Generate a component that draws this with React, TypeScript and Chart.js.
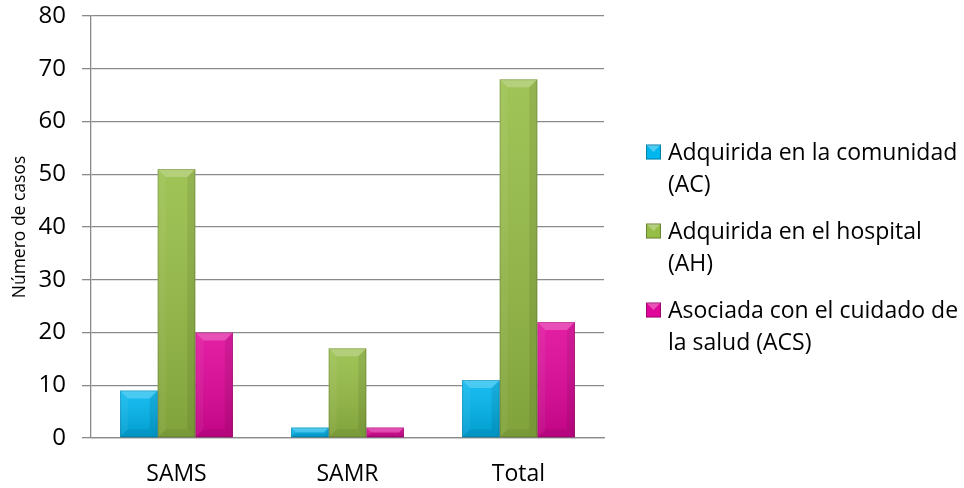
import React, { useEffect, useRef } from "react";
import { Chart, registerables } from "chart.js";

Chart.register(...registerables);

// Categories and series values (número de casos)
const categories = ["SAMS", "SAMR", "Total"];
const acValues = [9, 2, 11];
const ahValues = [51, 17, 68];
const acsValues = [20, 2, 22];

const seriesLabels = [
  "Adquirida en la comunidad (AC)",
  "Adquirida en el hospital (AH)",
  "Asociada con el cuidado de la salud (ACS)",
];
// Legend text broken into the lines it is drawn on
const legendLines = [
  ["Adquirida en la comunidad", "(AC)"],
  ["Adquirida en el hospital", "(AH)"],
  ["Asociada con el cuidado de", "la salud (ACS)"],
];
const seriesColors = ["#00B6EF", "#96BD45", "#E0069A"];

const yTicks = [0, 10, 20, 30, 40, 50, 60, 70, 80];
const yTitle = "Número de casos";

const FONT = "'Open Sans', 'Noto Sans', sans-serif";

// Beveled, softly shaded bar faces drawn over each bar
const bevelPlugin = {
  id: "bevelBars",
  afterDatasetsDraw(chart: any) {
    const ctx = chart.ctx;
    chart.data.datasets.forEach((_ds: any, di: number) => {
      const meta = chart.getDatasetMeta(di);
      meta.data.forEach((bar: any) => {
        const { x, y, base, width } = bar.getProps(["x", "y", "base", "width"], true);
        const l = x - width / 2;
        const r = x + width / 2;
        const t = Math.min(y, base);
        const b = Math.max(y, base);
        const h = b - t;
        if (h <= 0) return;
        const bv = Math.min(8, h / 2, width / 4);
        ctx.save();
        // vertical shading
        const g = ctx.createLinearGradient(0, t, 0, b);
        g.addColorStop(0, "rgba(255,255,255,0.10)");
        g.addColorStop(1, "rgba(0,0,0,0.14)");
        ctx.fillStyle = g;
        ctx.fillRect(l, t, width, h);
        // top bevel
        ctx.beginPath();
        ctx.moveTo(l, t);
        ctx.lineTo(r, t);
        ctx.lineTo(r - bv, t + bv);
        ctx.lineTo(l + bv, t + bv);
        ctx.closePath();
        ctx.fillStyle = "rgba(255,255,255,0.22)";
        ctx.fill();
        // left bevel
        ctx.beginPath();
        ctx.moveTo(l, t);
        ctx.lineTo(l + bv, t + bv);
        ctx.lineTo(l + bv, b - bv);
        ctx.lineTo(l, b);
        ctx.closePath();
        ctx.fillStyle = "rgba(255,255,255,0.05)";
        ctx.fill();
        // right bevel
        ctx.beginPath();
        ctx.moveTo(r, t);
        ctx.lineTo(r - bv, t + bv);
        ctx.lineTo(r - bv, b - bv);
        ctx.lineTo(r, b);
        ctx.closePath();
        ctx.fillStyle = "rgba(0,0,0,0.08)";
        ctx.fill();
        // bottom bevel
        ctx.beginPath();
        ctx.moveTo(l, b);
        ctx.lineTo(l + bv, b - bv);
        ctx.lineTo(r - bv, b - bv);
        ctx.lineTo(r, b);
        ctx.closePath();
        ctx.fillStyle = "rgba(0,0,0,0.06)";
        ctx.fill();
        // edge outline
        ctx.strokeStyle = "rgba(0,0,0,0.15)";
        ctx.lineWidth = 1;
        ctx.strokeRect(l + 0.5, t + 0.5, width - 1, h - 1);
        ctx.restore();
      });
    });
  },
};

// Right-hand legend with wrapped entries
const sideLegendPlugin = {
  id: "sideLegend",
  afterDraw(chart: any) {
    const ctx = chart.ctx;
    const boxX = 646;
    const textX = 668;
    const firstY = 153;
    const lineGap = 32;
    const entryGap = 47;
    ctx.save();
    ctx.font = `23px ${FONT}`;
    ctx.textBaseline = "middle";
    ctx.textAlign = "left";
    let yPos = firstY;
    chart.data.datasets.forEach((ds: any, i: number) => {
      const color = ds.backgroundColor;
      const bs = 15;
      const by = yPos - bs / 2 - 1;
      ctx.fillStyle = color;
      ctx.fillRect(boxX, by, bs, bs);
      ctx.beginPath();
      ctx.moveTo(boxX, by);
      ctx.lineTo(boxX + bs, by);
      ctx.lineTo(boxX + bs / 2, by + bs / 2);
      ctx.closePath();
      ctx.fillStyle = "rgba(255,255,255,0.3)";
      ctx.fill();
      ctx.strokeStyle = "rgba(0,0,0,0.3)";
      ctx.lineWidth = 1;
      ctx.strokeRect(boxX + 0.5, by + 0.5, bs - 1, bs - 1);
      ctx.fillStyle = "#000";
      const lines = legendLines[i];
      lines.forEach((ln, k) => {
        ctx.fillText(ln, textX, yPos + k * lineGap);
      });
      yPos += (lines.length - 1) * lineGap + entryGap;
    });
    ctx.restore();
  },
};

export default function App() {
  const ref = useRef<HTMLCanvasElement | null>(null);

  useEffect(() => {
    document.body.style.margin = "0";
    const canvas = ref.current;
    if (!canvas) return;
    const datasets = [acValues, ahValues, acsValues].map((vals, i) => ({
      label: seriesLabels[i],
      data: vals,
      backgroundColor: seriesColors[i],
      borderWidth: 0,
      categoryPercentage: 0.66,
      barPercentage: 1,
    }));
    const chart = new Chart(canvas, {
      type: "bar",
      data: { labels: categories, datasets },
      plugins: [bevelPlugin, sideLegendPlugin],
      options: {
        animation: false,
        responsive: false,
        maintainAspectRatio: false,
        layout: { padding: { top: 16, right: 360, bottom: 0, left: 0 } },
        plugins: {
          legend: { display: false },
          tooltip: { enabled: false },
        },
        scales: {
          x: {
            grid: { display: false, drawTicks: false },
            border: { display: true, color: "#8a8a8a", width: 1.3 },
            ticks: {
              color: "#000",
              font: { family: FONT, size: 23 },
              padding: 23,
            },
            afterFit(scale: any) {
              scale.height = 50;
              scale.paddingLeft = 0;
              scale.paddingRight = 0;
            },
          },
          y: {
            min: 0,
            max: 80,
            afterBuildTicks(scale: any) {
              scale.ticks = yTicks.map((v) => ({ value: v }));
            },
            grid: { color: "#8a8a8a", lineWidth: 1.3, tickLength: 9 },
            border: { display: true, color: "#8a8a8a", width: 1.3 },
            ticks: {
              color: "#000",
              font: { family: FONT, size: 24 },
              padding: 16,
            },
            title: {
              display: true,
              text: yTitle,
              color: "#000",
              font: { family: FONT, size: 17.5 },
              padding: { top: 10, bottom: 0 },
            },
            afterFit(scale: any) {
              scale.width = 91;
              scale.paddingTop = 0;
              scale.paddingBottom = 0;
            },
          },
        },
      },
    });
    return () => chart.destroy();
  }, []);

  return (
    <div style={{ position: "relative", width: 964, height: 488, background: "#fff" }}>
      <canvas ref={ref} width={964} height={488} style={{ width: 964, height: 488, display: "block" }} />
    </div>
  );
}
